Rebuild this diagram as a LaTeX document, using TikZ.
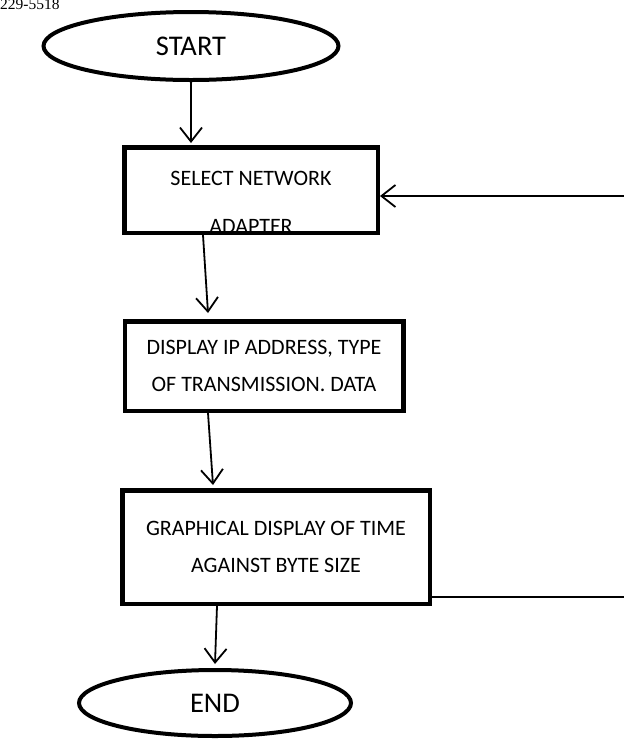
\documentclass[tikz,border=0pt]{standalone}
\usepackage{fontspec}
\setmainfont{Carlito}
\newfontfamily\headerfont{Liberation Serif}
\usetikzlibrary{arrows.meta,shapes.geometric,calc}

\begin{document}
\begin{tikzpicture}[x=1pt,y=-1pt,
  flowtext/.style={font=\fontsize{22}{37.5}\selectfont, align=center, inner sep=0pt},
  terminal/.style={draw, ellipse, line width=4pt, inner sep=0pt,
    font=\fontsize{28.5}{32}\selectfont},
  procbox/.style={draw, rectangle, line width=4.5pt, inner sep=0pt},
  flow/.style={line width=1.8pt,
    -{Straight Barb[length=14pt,width=22pt,line width=1.8pt]}},
  plainline/.style={line width=1.8pt},
]
% page frame
\useasboundingbox (0,0) rectangle (624,740);
\clip (0,0) rectangle (624,740);
\fill[white] (0,0) rectangle (624,740);

% header fragment
\node[font=\headerfont\fontsize{15.5}{18}\selectfont, anchor=base west, inner sep=0pt]
  (hdr) at (0,9.5) {229-5518};

% terminals
\node[terminal, minimum width=295pt, minimum height=68pt] (st) at (191,46) {START};
\node[terminal, minimum width=272pt, minimum height=66pt] (en) at (215,703) {END};

% process boxes
\node[procbox, minimum width=253.5pt, minimum height=85.5pt] (b1) at (251,190) {};
\node[procbox, minimum width=278.5pt, minimum height=89.5pt, flowtext] (b2) at (264,366)
  {DISPLAY IP ADDRESS, TYPE\\OF TRANSMISSION. DATA};
\node[procbox, minimum width=307.5pt, minimum height=113.5pt, flowtext] (b3) at (276,547)
  {GRAPHICAL DISPLAY OF TIME\\AGAINST BYTE SIZE};

% text of the first box, cut off by its lower edge
\begin{scope}
  \clip (124.5,147.5) rectangle (377.5,231);
  \node[flowtext, anchor=base] (b1a) at (251,185) {SELECT NETWORK};
  \node[flowtext, anchor=base] (b1b) at (251,233) {ADAPTER};
\end{scope}

% loop coordinates at the right margin
\coordinate (fbin) at (624,196);
\coordinate (fbout) at (624,597);

% connectors
\draw[flow] (st.south) -- ($(b1.north)+(-60,-2)$);
\draw[flow] ($(b1.south)+(-48,0)$) -- ($(b2.north)+(-56,-6)$);
\draw[flow] ($(b2.south)+(-56,0)$) -- ($(b3.north)+(-63,-3)$);
\draw[flow] ($(b3.south)+(-59,0)$) -- ($(en.north)+(0,-4)$);
\draw[flow] (fbin) -- (b1.east |- fbin);
\draw[plainline] (b3.east |- fbout) -- (fbout);
\end{tikzpicture}
\end{document}
